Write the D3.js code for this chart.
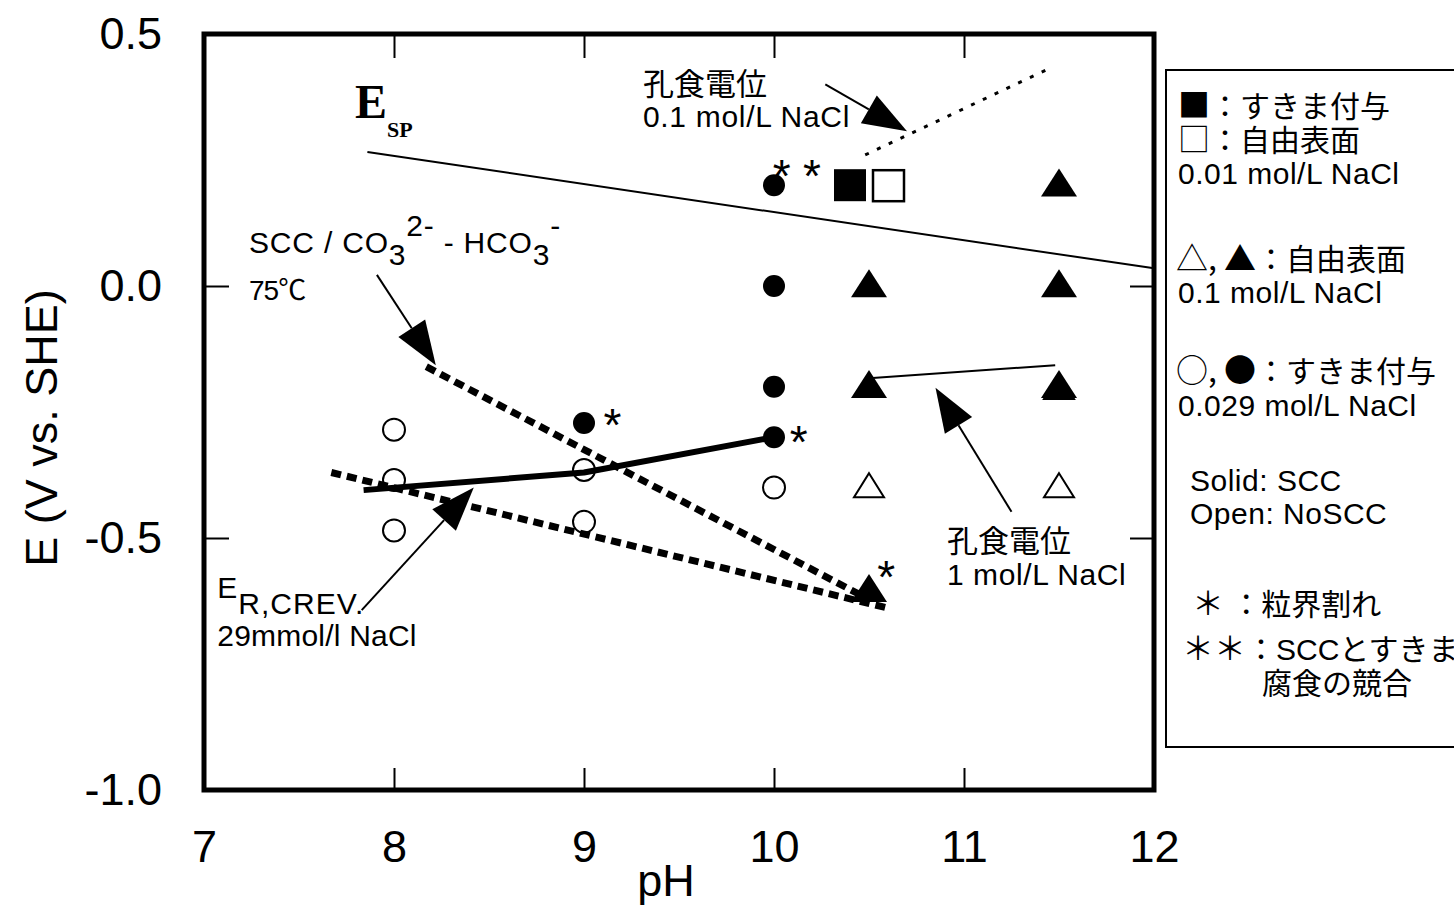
<!DOCTYPE html>
<html>
<head>
<meta charset="utf-8">
<script src="https://cdn.jsdelivr.net/npm/d3@7/dist/d3.min.js"></script>
<style>
  html, body { margin: 0; padding: 0; background: #fff; }
  svg { display: block; }
  text { fill: #000; }
</style>
</head>
<body>
<svg id="chart" width="1454" height="909"></svg>
<script>
// ---------- data ----------
const xTicks = [7, 8, 9, 10, 11, 12];
const yTicks = [0.5, 0.0, -0.5, -1.0];

// open circles (crevice, 0.029 mol/L NaCl, no SCC)
const openCirclePH = [8, 8, 8, 9, 9, 10];
const openCircleE  = [-0.285, -0.385, -0.485, -0.365, -0.468, -0.40];
// filled circles (crevice, 0.029 mol/L NaCl, SCC)
const filledCirclePH = [9, 10, 10, 10, 10];
const filledCircleE  = [-0.272, 0.20, 0.0, -0.20, -0.30];
// open triangles (free surface, 0.1 mol/L NaCl, no SCC)
const openTriPH = [10.5, 11.5, 11.5];
const openTriE  = [-0.40, -0.40, -0.205];
// filled triangles (free surface, 0.1 mol/L NaCl, SCC)
const filledTriPH = [10.5, 10.5, 10.5, 11.5, 11.5, 11.5];
const filledTriE  = [0.0, -0.20, -0.605, 0.20, 0.0, -0.20];
// squares (0.01 mol/L NaCl)
const filledSquarePH = [10.4];
const filledSquareE  = [0.20];
const openSquarePH = [10.6];
const openSquareE  = [0.20];

// lines
const espPH = [7.86, 12.0];          // E_SP
const espE  = [0.266, 0.035];
const pit01PH = [10.48, 11.44];      // pitting potential 0.1 mol/L NaCl (dotted)
const pit01E  = [0.26, 0.43];
const pit1PH = [10.5, 11.48];        // pitting potential 1 mol/L NaCl
const pit1E  = [-0.183, -0.157];
const sccPH = [8.17, 10.45];         // SCC / CO3-HCO3 75C (thick dashed)
const sccE  = [-0.16, -0.612];
const erPH = [7.67, 10.61];          // E_R,CREV 29 mmol/l NaCl (thick dashed)
const erE  = [-0.37, -0.64];
const solidPH = [7.84, 9.0, 10.0];   // thick solid
const solidE  = [-0.405, -0.37, -0.30];

// annotation arrows: from -> tip
const arrowFromPH = [7.91, 7.83, 11.25, 10.27];
const arrowFromE  = [0.022, -0.643, -0.448, 0.40];
const arrowTipPH  = [8.22, 8.42, 10.85, 10.70];
const arrowTipE   = [-0.157, -0.40, -0.202, 0.307];

// asterisks (centres)
const starPH = [10.04, 10.2, 9.15, 10.13, 10.59];
const starE  = [0.24, 0.24, -0.255, -0.288, -0.556];

// legend rows: symbol part, text part
const legendSym  = ["■", "□", "", "△, ▲", "", "○, ●", "", "", "", "＊ ", "＊＊", ""];
const legendText = ["：すきま付与", "：自由表面", "0.01 mol/L NaCl", "：自由表面", "0.1 mol/L NaCl",
                    "：すきま付与", "0.029 mol/L NaCl", "Solid: SCC", "Open: NoSCC",
                    "：粒界割れ", "：SCCとすきま", "腐食の競合"];

// ---------- layout ----------
const LAT = "Liberation Sans, Arial, sans-serif";
const JP = "Liberation Sans, Noto Sans CJK JP, sans-serif";
const JPF = "Noto Sans CJK JP, sans-serif";
const svg = d3.select("#chart");
const x = d3.scaleLinear().domain([7, 12]).range([204, 1154]);
const y = d3.scaleLinear().domain([-1, 0.5]).range([790, 34]);

const pts = (a, b) => a.map((v, i) => [x(v), y(b[i])]);

// axes (inner ticks)
const gB = svg.append("g").attr("transform", `translate(0,${y(-1)})`)
  .call(d3.axisBottom(x).tickValues(xTicks).tickSize(-22).tickPadding(40).tickFormat(d3.format("d")));
const gT = svg.append("g").attr("transform", `translate(0,${y(0.5)})`)
  .call(d3.axisTop(x).tickValues([8, 9, 10, 11]).tickSize(-24).tickFormat(""));
const gL = svg.append("g").attr("transform", `translate(${x(7)},0)`)
  .call(d3.axisLeft(y).tickValues(yTicks).tickSize(-25).tickPadding(42).tickFormat(d => d.toFixed(1)));
const gR = svg.append("g").attr("transform", `translate(${x(12)},0)`)
  .call(d3.axisRight(y).tickValues([0.0, -0.5]).tickSize(-24).tickFormat(""));
[gB, gT, gL, gR].forEach(g => {
  g.select(".domain").remove();
  g.selectAll(".tick line").attr("stroke", "#000").attr("stroke-width", 2);
  g.selectAll(".tick text").attr("font-size", 45).attr("fill", "#000").style("font-family", LAT);
});
gB.selectAll(".tick").filter(d => d === 7 || d === 12).select("line").remove();
gL.selectAll(".tick").filter(d => d === 0.5 || d === -1).select("line").remove();

// frame
svg.append("rect").attr("x", x(7)).attr("y", y(0.5))
  .attr("width", x(12) - x(7)).attr("height", y(-1) - y(0.5))
  .attr("fill", "none").attr("stroke", "#000").attr("stroke-width", 5);

// axis titles
svg.append("text").attr("x", 666).attr("y", 896).attr("text-anchor", "middle")
  .style("font-family", LAT).attr("font-size", 45).text("pH");
svg.append("text").attr("transform", "translate(57,428) rotate(-90)").attr("text-anchor", "middle")
  .style("font-family", LAT).attr("font-size", 45).text("E (V vs. SHE)");

const line = d3.line();

// markers
const gm = svg.append("g");
const r = 11;
gm.selectAll(".oc").data(pts(openCirclePH, openCircleE)).join("circle")
  .attr("cx", d => d[0]).attr("cy", d => d[1]).attr("r", r)
  .attr("fill", "#fff").attr("stroke", "#000").attr("stroke-width", 2);
gm.selectAll(".fc").data(pts(filledCirclePH, filledCircleE)).join("circle")
  .attr("cx", d => d[0]).attr("cy", d => d[1]).attr("r", r).attr("fill", "#000");
const tri = (w, h) => `M0,${-h * 0.6}L${w / 2},${h * 0.4}L${-w / 2},${h * 0.4}Z`;
gm.selectAll(".ot").data(pts(openTriPH, openTriE)).join("path")
  .attr("transform", d => `translate(${d[0]},${d[1]})`).attr("d", tri(30, 24))
  .attr("fill", "#fff").attr("stroke", "#000").attr("stroke-width", 2);
gm.selectAll(".ft").data(pts(filledTriPH, filledTriE)).join("path")
  .attr("transform", d => `translate(${d[0]},${d[1]})`).attr("d", tri(36, 28))
  .attr("fill", "#000");
gm.selectAll(".fs").data(pts(filledSquarePH, filledSquareE)).join("rect")
  .attr("x", d => d[0] - 16).attr("y", d => d[1] - 16).attr("width", 32).attr("height", 32)
  .attr("fill", "#000");
gm.selectAll(".os").data(pts(openSquarePH, openSquareE)).join("rect")
  .attr("x", d => d[0] - 15).attr("y", d => d[1] - 15).attr("width", 31).attr("height", 31)
  .attr("fill", "#fff").attr("stroke", "#000").attr("stroke-width", 2.5);

// lines
svg.append("path").attr("d", line(pts(espPH, espE))).attr("fill", "none")
  .attr("stroke", "#000").attr("stroke-width", 2);
svg.append("path").attr("d", line(pts(pit01PH, pit01E))).attr("fill", "none")
  .attr("stroke", "#000").attr("stroke-width", 3).attr("stroke-dasharray", "4,9");
svg.append("path").attr("d", line(pts(pit1PH, pit1E))).attr("fill", "none")
  .attr("stroke", "#000").attr("stroke-width", 2);
svg.append("path").attr("d", line(pts(sccPH, sccE))).attr("fill", "none")
  .attr("stroke", "#000").attr("stroke-width", 7).attr("stroke-dasharray", "10,6");
svg.append("path").attr("d", line(pts(erPH, erE))).attr("fill", "none")
  .attr("stroke", "#000").attr("stroke-width", 7).attr("stroke-dasharray", "10,6");
svg.append("path").attr("d", line(pts(solidPH, solidE))).attr("fill", "none")
  .attr("stroke", "#000").attr("stroke-width", 6).attr("stroke-linejoin", "round");

// arrows
const ga = svg.append("g");
arrowFromPH.forEach((_, i) => {
  const x0 = x(arrowFromPH[i]), y0 = y(arrowFromE[i]);
  const x1 = x(arrowTipPH[i]), y1 = y(arrowTipE[i]);
  const L = Math.hypot(x1 - x0, y1 - y0), ux = (x1 - x0) / L, uy = (y1 - y0) / L;
  const hl = 44, hw = 16;
  const bx = x1 - ux * hl, by = y1 - uy * hl;
  ga.append("line").attr("x1", x0).attr("y1", y0).attr("x2", bx).attr("y2", by)
    .attr("stroke", "#000").attr("stroke-width", 2);
  ga.append("path").attr("d",
    `M${x1},${y1}L${bx - uy * hw},${by + ux * hw}L${bx + uy * hw},${by - ux * hw}Z`)
    .attr("fill", "#000");
});

// asterisks
const starSize = 46;
svg.selectAll(".star").data(pts(starPH, starE)).join("text")
  .attr("x", d => d[0]).attr("y", d => d[1] + starSize * 0.58).attr("text-anchor", "middle")
  .style("font-family", LAT).attr("font-size", starSize).text("*");

// annotation texts
const ann = svg.append("g");
const esp = ann.append("text").attr("x", x(7.795)).attr("y", y(0.333))
  .style("font-family", "Liberation Serif, Times New Roman, serif").attr("font-weight", "bold");
esp.append("tspan").attr("font-size", 48).text("E");
esp.append("tspan").attr("font-size", 22).attr("dy", 19).text("SP");

const scc = ann.append("text").attr("x", x(7.237)).attr("y", y(0.065))
  .style("font-family", LAT).attr("font-size", 30).attr("letter-spacing", 0.8);
scc.append("tspan").text("SCC / CO");
scc.append("tspan").attr("dy", 12).text("3");
scc.append("tspan").attr("dy", -29).text("2-");
scc.append("tspan").attr("dy", 17).text(" - HCO");
scc.append("tspan").attr("dy", 12).text("3");
scc.append("tspan").attr("dy", -29).text("-");
ann.append("text").attr("x", x(7.237)).attr("y", y(-0.028))
  .style("font-family", JP).attr("font-size", 28).attr("letter-spacing", -1).text("75℃");

const er = ann.append("text").attr("x", x(7.07)).attr("y", y(-0.62))
  .style("font-family", LAT).attr("font-size", 30).attr("letter-spacing", 1);
er.append("tspan").text("E");
er.append("tspan").attr("dy", 16).text("R,CREV.");
ann.append("text").attr("x", x(7.07)).attr("y", y(-0.714)).style("font-family", LAT)
  .attr("font-size", 30).attr("letter-spacing", 0.2).text("29mmol/l NaCl");

ann.append("text").attr("x", x(9.31)).attr("y", y(0.379))
  .style("font-family", JPF).attr("font-size", 31).text("孔食電位");
ann.append("text").attr("x", x(9.31)).attr("y", y(0.315)).style("font-family", LAT)
  .attr("font-size", 30).attr("letter-spacing", 0.7).text("0.1 mol/L NaCl");
ann.append("text").attr("x", x(10.91)).attr("y", y(-0.528))
  .style("font-family", JPF).attr("font-size", 31).text("孔食電位");
ann.append("text").attr("x", x(10.91)).attr("y", y(-0.593)).style("font-family", LAT)
  .attr("font-size", 30).attr("letter-spacing", 0.6).text("1 mol/L NaCl");

// legend
const legX = [1178, 1178, 1178, 1176, 1178, 1176, 1178, 1190, 1190, 1192, 1182, 1262];
const legY = [117, 151, 184, 270, 303, 382, 416, 491, 524, 615, 660, 694];
svg.append("rect").attr("x", 1166).attr("y", 70).attr("width", 320).attr("height", 677)
  .attr("fill", "none").attr("stroke", "#000").attr("stroke-width", 2);
legendText.forEach((t, i) => {
  const isLatin = /^[0-9A-Za-z]/.test(t);
  const tx = svg.append("text").attr("x", legX[i]).attr("y", legY[i])
    .style("font-family", isLatin ? LAT : JP)
    .attr("font-size", 30)
    .attr("letter-spacing", isLatin ? 0.5 : 0);
  if (legendSym[i]) {
    tx.append("tspan").style("font-family", JPF).attr("font-size", 32).text(legendSym[i]);
  }
  tx.append("tspan").text(t);
});
</script>
</body>
</html>
